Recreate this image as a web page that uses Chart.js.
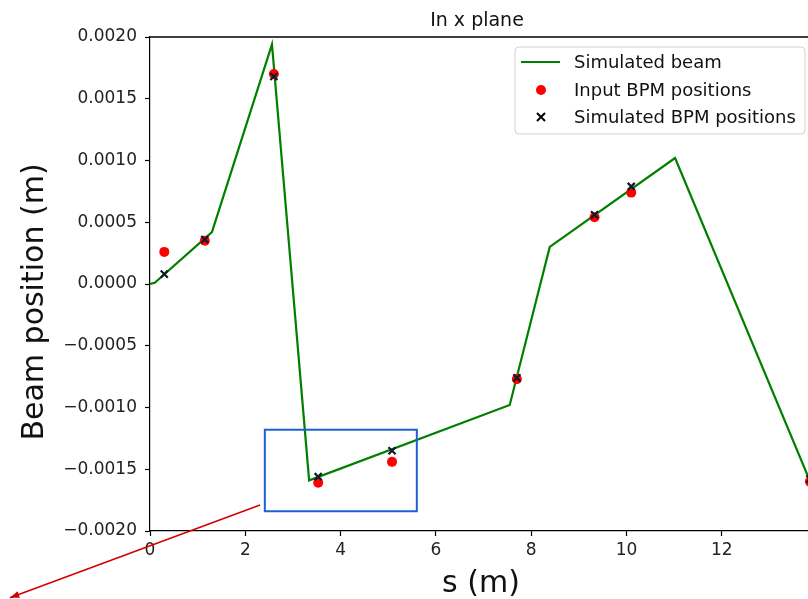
<!DOCTYPE html>
<html>
<head>
<meta charset="utf-8">
<script src="https://cdn.jsdelivr.net/npm/chart.js@4/dist/chart.umd.min.js"></script>
<style>
  html, body { margin: 0; padding: 0; background: #fff; }
  #wrap { width: 808px; height: 599px; }
</style>
</head>
<body>
<div id="wrap"><canvas id="beamChart" width="808" height="599"></canvas></div>
<script>
// simulated beam trajectory (s in m, x in m)
const beamS = [0, 0.1, 1.3, 2.56, 3.34, 7.55, 8.39, 11.02, 13.9];
const beamX = [0, 0.00001, 0.00042, 0.00194, -0.00159, -0.00098, 0.0003, 0.00102, -0.00164];

// BPM locations and readings
const bpmS = [0.3, 1.15, 2.6, 3.53, 5.08, 7.7, 9.33, 10.1, 13.85];
const inputBpm = [0.00026, 0.00035, 0.0017, -0.00161, -0.00144, -0.00077, 0.00054, 0.00074, -0.0016];
const simBpm = [0.00008, 0.00036, 0.00168, -0.00156, -0.00135, -0.00076, 0.00056, 0.00079, -0.00158];

const xTicks = [0, 2, 4, 6, 8, 10, 12];
const yTicks = [-0.002, -0.0015, -0.001, -0.0005, 0, 0.0005, 0.001, 0.0015, 0.002];

// zoom box and arrow (in data units)
const zoomBox = { s0: 2.41, s1: 5.6, x0: -0.00184, x1: -0.00118 };
const arrow = { s0: 2.31, x0: -0.00179, s1: -2.94, x1: -0.00254 };

const FONT = "'DejaVu Sans', sans-serif";
const toPts = (xs, ys) => xs.map((v, i) => ({ x: v, y: ys[i] }));

const extras = {
    id: 'extras',
    afterDraw(chart) {
        const { ctx, chartArea: a, scales: { x, y } } = chart;
        ctx.save();
        // top spine
        ctx.strokeStyle = '#000';
        ctx.lineWidth = 1.5;
        ctx.beginPath();
        ctx.moveTo(a.left, a.top);
        ctx.lineTo(a.right, a.top);
        ctx.stroke();

        // title + axis labels
        ctx.fillStyle = '#111';
        ctx.textAlign = 'center';
        ctx.textBaseline = 'alphabetic';
        ctx.font = '19px ' + FONT;
        ctx.fillText('In x plane', 477, 26);
        ctx.font = '30px ' + FONT;
        ctx.fillText('s (m)', 481, 592);
        ctx.save();
        ctx.translate(43, 302);
        ctx.rotate(-Math.PI / 2);
        ctx.fillText('Beam position (m)', 0, 0);
        ctx.restore();

        // legend
        const lx = 515, ly = 47, lw = 290, lh = 87;
        ctx.fillStyle = 'rgba(255,255,255,0.85)';
        ctx.strokeStyle = '#d0d0d0';
        ctx.lineWidth = 1;
        ctx.beginPath();
        ctx.roundRect(lx, ly, lw, lh, 4);
        ctx.fill();
        ctx.stroke();
        const rows = [62, 90, 117];
        ctx.strokeStyle = '#008000';
        ctx.lineWidth = 2.2;
        ctx.beginPath();
        ctx.moveTo(521, rows[0]);
        ctx.lineTo(560, rows[0]);
        ctx.stroke();
        ctx.fillStyle = '#ff0000';
        ctx.beginPath();
        ctx.arc(541, rows[1], 5, 0, Math.PI * 2);
        ctx.fill();
        ctx.strokeStyle = '#000';
        ctx.lineWidth = 2;
        ctx.beginPath();
        ctx.moveTo(537, rows[2] - 4); ctx.lineTo(545, rows[2] + 4);
        ctx.moveTo(545, rows[2] - 4); ctx.lineTo(537, rows[2] + 4);
        ctx.stroke();
        ctx.fillStyle = '#111';
        ctx.textAlign = 'left';
        ctx.textBaseline = 'middle';
        ctx.font = '18px ' + FONT;
        chart.data.datasets.slice().reverse().forEach((ds, i) => {
            ctx.fillText(ds.label, 574, rows[i] + 1);
        });

        // zoom box
        ctx.strokeStyle = '#1f5fd6';
        ctx.lineWidth = 2;
        const bx0 = x.getPixelForValue(zoomBox.s0), bx1 = x.getPixelForValue(zoomBox.s1);
        const by0 = y.getPixelForValue(zoomBox.x1), by1 = y.getPixelForValue(zoomBox.x0);
        ctx.strokeRect(bx0, by0, bx1 - bx0, by1 - by0);

        // arrow
        const ax0 = x.getPixelForValue(arrow.s0), ay0 = y.getPixelForValue(arrow.x0);
        const ax1 = x.getPixelForValue(arrow.s1), ay1 = y.getPixelForValue(arrow.x1);
        ctx.strokeStyle = '#d40000';
        ctx.fillStyle = '#d40000';
        ctx.lineWidth = 1.6;
        ctx.beginPath();
        ctx.moveTo(ax0, ay0);
        ctx.lineTo(ax1, ay1);
        ctx.stroke();
        const ang = Math.atan2(ay1 - ay0, ax1 - ax0);
        ctx.beginPath();
        ctx.moveTo(ax1, ay1);
        ctx.lineTo(ax1 - 10 * Math.cos(ang - 0.35), ay1 - 10 * Math.sin(ang - 0.35));
        ctx.lineTo(ax1 - 10 * Math.cos(ang + 0.35), ay1 - 10 * Math.sin(ang + 0.35));
        ctx.closePath();
        ctx.fill();
        ctx.restore();
    }
};

new Chart(document.getElementById('beamChart'), {
    type: 'scatter',
    data: {
        datasets: [{
            label: 'Simulated BPM positions',
            data: toPts(bpmS, simBpm),
            pointStyle: 'crossRot',
            pointRadius: 5,
            borderColor: '#0d1b2a',
            borderWidth: 2.2,
            order: 1,
        }, {
            label: 'Input BPM positions',
            data: toPts(bpmS, inputBpm),
            pointStyle: 'circle',
            pointRadius: 5,
            backgroundColor: '#ff0000',
            borderWidth: 0,
            order: 2,
        }, {
            label: 'Simulated beam',
            data: toPts(beamS, beamX),
            showLine: true,
            borderColor: '#008000',
            borderWidth: 2.2,
            pointRadius: 0,
            order: 3,
        }]
    },
    options: {
        responsive: false,
        animation: false,
        events: [],
        layout: { autoPadding: false, padding: { top: 37, left: 0, right: 0, bottom: 0 } },
        plugins: {
            legend: { display: false },
            title: { display: false },
            tooltip: { enabled: false },
        },
        scales: {
            x: {
                type: 'linear',
                min: 0,
                max: 13.81,
                afterFit: s => { s.height = 68; s.paddingLeft = 0; s.paddingRight = 0; },
                afterBuildTicks: s => { s.ticks = xTicks.map(v => ({ value: v })); },
                grid: { drawOnChartArea: false, drawTicks: true, tickLength: 5, tickColor: '#000', tickWidth: 1.2 },
                border: { color: '#000', width: 1.2 },
                ticks: {
                    color: '#222',
                    padding: 4,
                    maxRotation: 0,
                    font: { family: FONT, size: 17 },
                    callback: v => String(v),
                },
            },
            y: {
                type: 'linear',
                min: -0.002,
                max: 0.002,
                afterFit: s => { s.width = 150; s.paddingTop = 0; s.paddingBottom = 0; },
                afterBuildTicks: s => { s.ticks = yTicks.map(v => ({ value: v })); },
                grid: { drawOnChartArea: false, drawTicks: true, tickLength: 5, tickColor: '#000', tickWidth: 1.2 },
                border: { color: '#000', width: 1.2 },
                ticks: {
                    color: '#222',
                    padding: 8,
                    font: { family: FONT, size: 17 },
                    callback: v => v.toFixed(4).replace('-', '\u2212'),
                },
            },
        },
    },
    plugins: [extras],
});
</script>
</body>
</html>
